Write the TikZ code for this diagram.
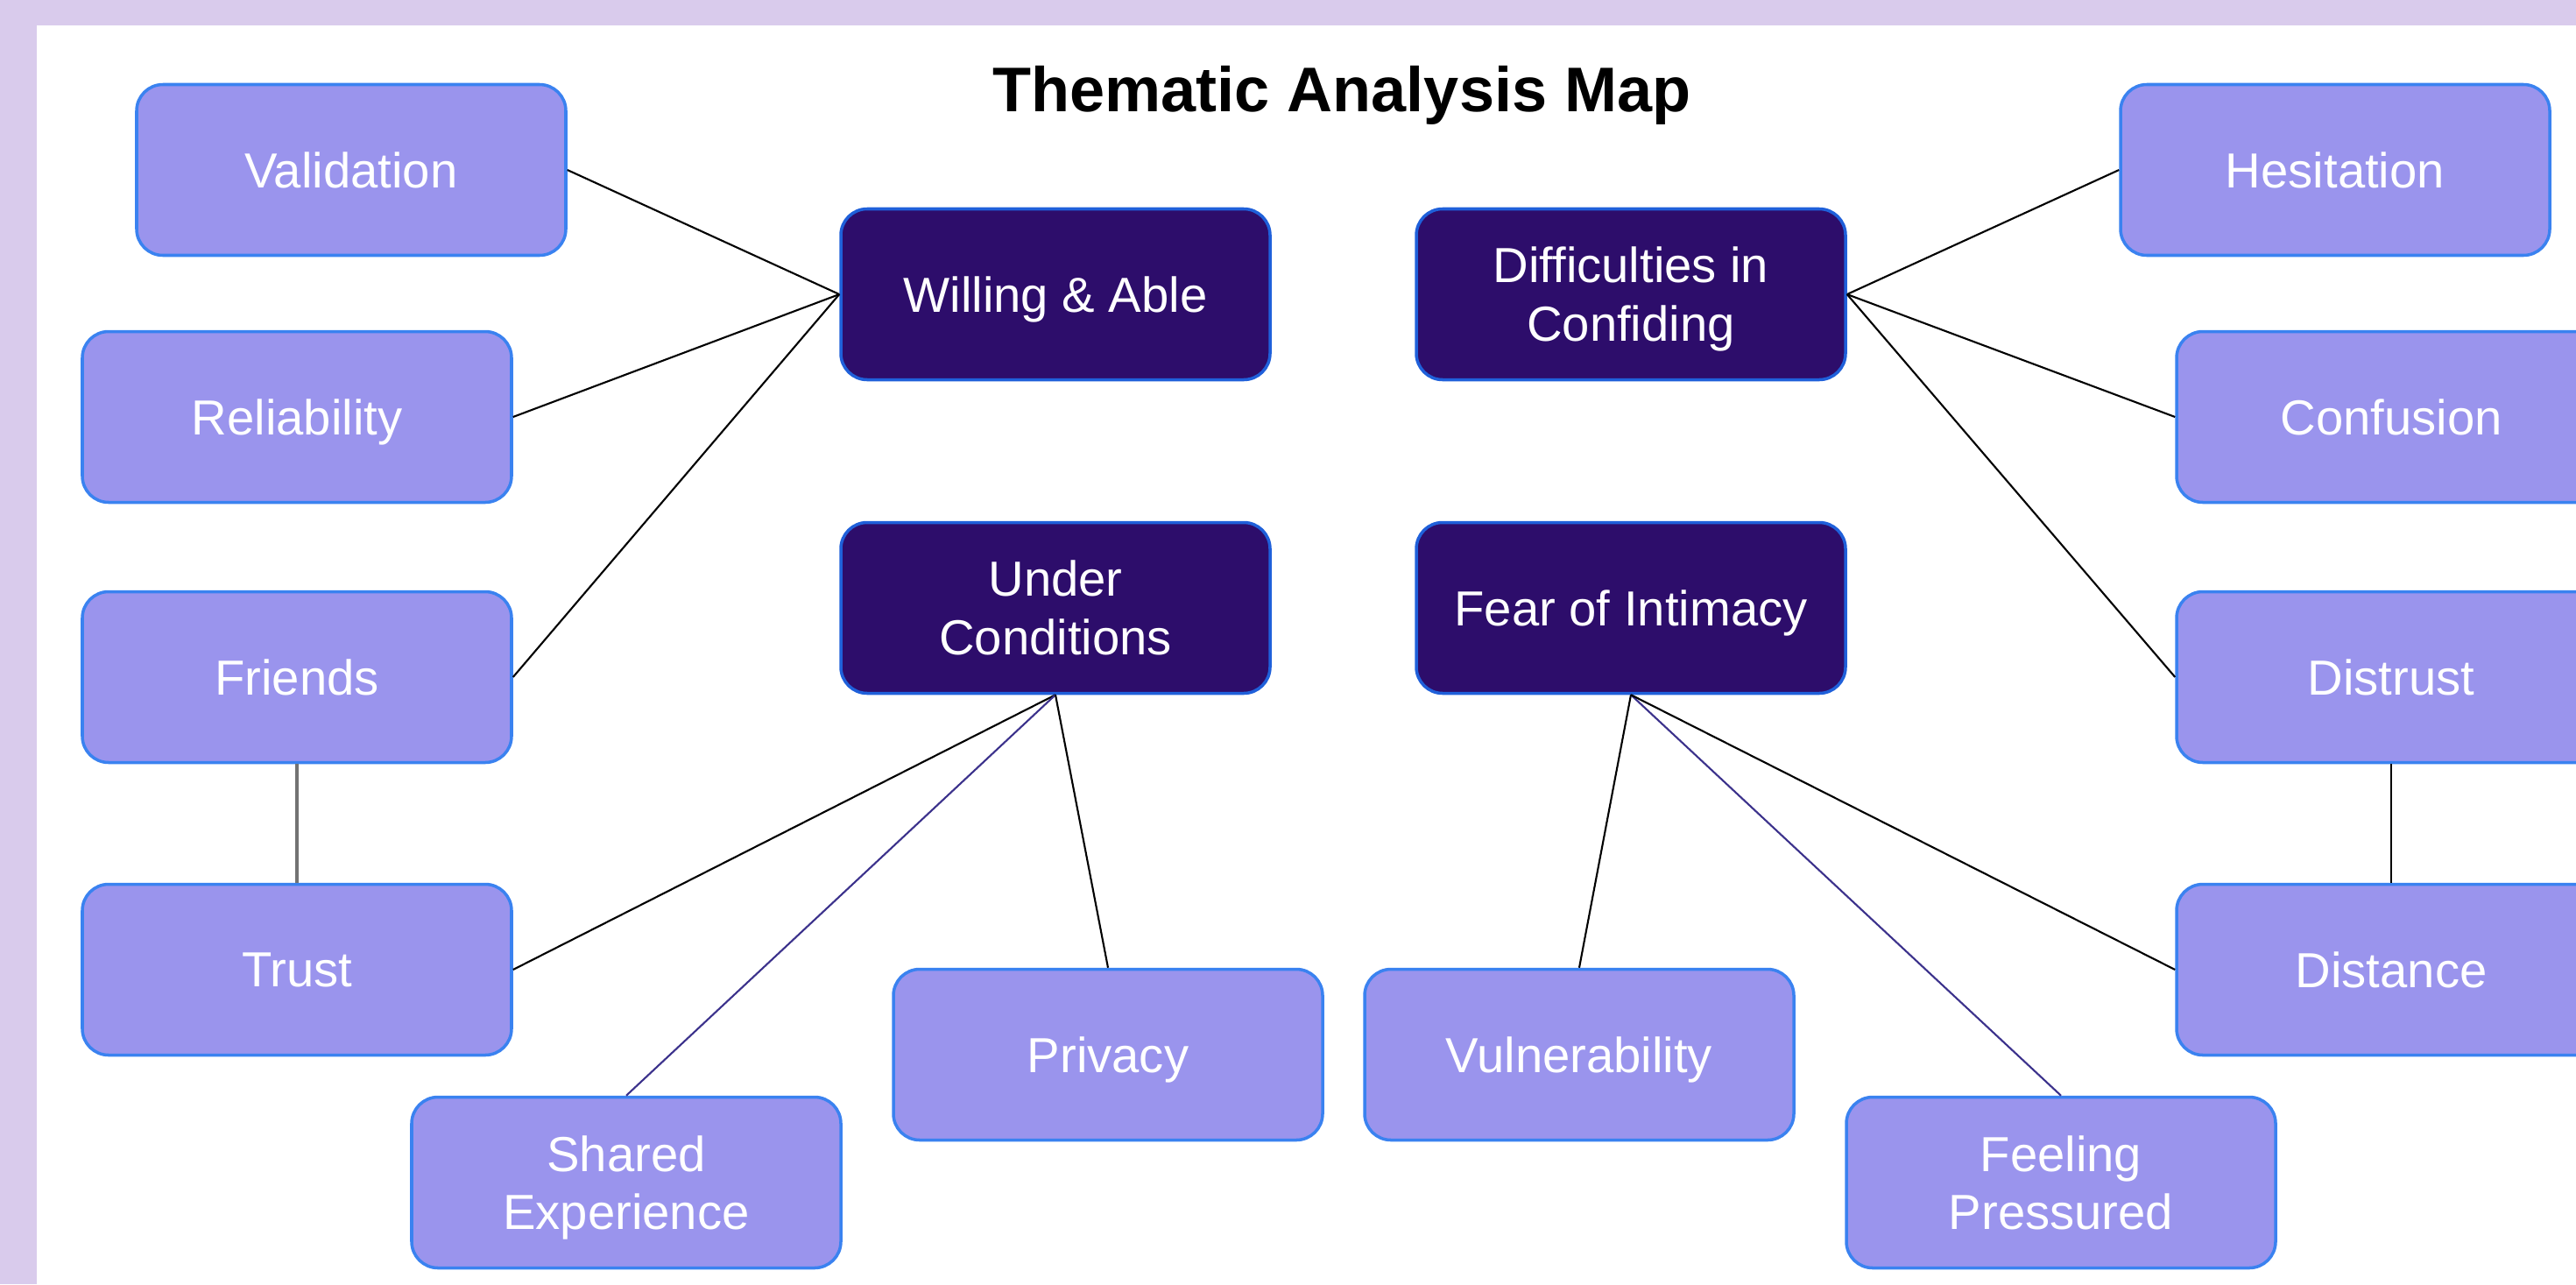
\documentclass[tikz,border=0pt]{standalone}
\usepackage{fontspec}
\setmainfont{Liberation Sans}
\usepackage{tikz}
\usetikzlibrary{calc}
\definecolor{tm_back}{RGB}{217, 203, 236}
\definecolor{tm_light}{RGB}{154, 148, 237}
\definecolor{tm_dark}{RGB}{45, 13, 107}
\definecolor{tm_blue}{RGB}{58, 130, 240}
\definecolor{tm_dblue}{RGB}{31, 96, 218}
\definecolor{tm_edge}{RGB}{60, 50, 140}
\tikzstyle{ln}=[rectangle,rounded corners=0.3cm,fill=tm_light,draw=tm_blue,
  line width=1pt,minimum width=4.9cm,minimum height=1.95cm,text=white,
  align=center,text depth=0pt,font=\fontsize{16}{19}\selectfont]
\tikzstyle{dn}=[rectangle,rounded corners=0.3cm,fill=tm_dark,draw=tm_dblue,
  line width=1pt,minimum width=4.9cm,minimum height=1.95cm,text=white,
  align=center,text depth=0pt,font=\fontsize{16}{19}\selectfont]
\tikzstyle{tn}=[font=\bfseries\fontsize{20.5}{24}\selectfont]
\tikzstyle{ed}=[line width=0.6pt,draw=black]
\tikzstyle{pe}=[line width=0.6pt,draw=tm_edge]
\tikzstyle{ge}=[line width=0.9pt,draw=black!55]

\begin{document}
\begin{tikzpicture}
            \useasboundingbox (0, 0) rectangle (29.41, -14.66);
            \fill [tm_back] (0, 0) rectangle (29.41, -14.66);
            \fill [white] (0.42, -0.29) rectangle (29.41, -14.66);
            \node [style=tn] (0) at (15.32, -1.09) {Thematic Analysis Map};
            % themes
            \node [style=dn] (1) at (12.05, -3.36) {Willing \& Able};
            \node [style=dn] (2) at (12.05, -6.94) {Under\\Conditions};
            \node [style=dn] (3) at (18.62, -3.36) {Difficulties in\\Confiding};
            \node [style=dn] (4) at (18.62, -6.94) {Fear of Intimacy};
            % codes
            \node [style=ln] (5) at (4.01, -1.94) {Validation};
            \node [style=ln] (6) at (3.39, -4.76) {Reliability};
            \node [style=ln] (7) at (3.39, -7.73) {Friends};
            \node [style=ln] (8) at (3.39, -11.07) {Trust};
            \node [style=ln] (9) at (7.15, -13.50) {Shared\\Experience};
            \node [style=ln] (10) at (12.65, -12.04) {Privacy};
            \node [style=ln] (11) at (18.03, -12.04) {Vulnerability};
            \node [style=ln] (12) at (23.53, -13.50) {Feeling\\Pressured};
            \node [style=ln] (13) at (26.66, -1.94) {Hesitation};
            \node [style=ln] (14) at (27.30, -4.76) {Confusion};
            \node [style=ln] (15) at (27.30, -7.73) {Distrust};
            \node [style=ln] (16) at (27.30, -11.07) {Distance};
            \draw [style=ed] (1.west) to (5.east);
            \draw [style=ed] (1.west) to (6.east);
            \draw [style=ed] (1.west) to (7.east);
            \draw [style=ge] (7.south) to (8.north);
            \draw [style=ed] (2.south) to (8.east);
            \draw [style=pe] (2.south) to (9.north);
            \draw [style=ed] (2.south) to (10.north);
            \draw [style=ed] (3.east) to (13.west);
            \draw [style=ed] (3.east) to (14.west);
            \draw [style=ed] (3.east) to (15.west);
            \draw [style=ed] (15.south) to (16.north);
            \draw [style=ed] (4.south) to (11.north);
            \draw [style=pe] (4.south) to (12.north);
            \draw [style=ed] (4.south) to (16.west);
    \end{tikzpicture}
\end{document}
